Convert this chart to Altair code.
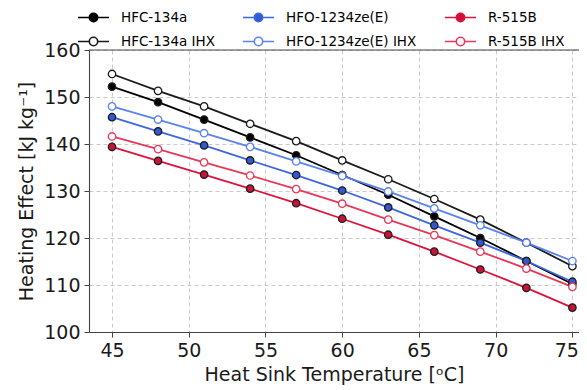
import altair as alt
import pandas as pd

# ---- data ----
temps = [45, 48, 51, 54, 57, 60, 63, 66, 69, 72, 75]
hfc134a = [152.2, 148.9, 145.2, 141.4, 137.6, 133.4, 129.2, 124.6, 120.0, 115.1, 110.2]
hfc134a_ihx = [154.9, 151.3, 148.0, 144.3, 140.6, 136.5, 132.5, 128.3, 123.9, 119.0, 114.0]
hfo1234ze = [145.7, 142.7, 139.7, 136.5, 133.4, 130.1, 126.5, 122.7, 119.0, 115.1, 110.7]
hfo1234ze_ihx = [148.0, 145.2, 142.3, 139.4, 136.3, 133.2, 129.9, 126.3, 122.7, 119.0, 115.1]
r515b = [139.4, 136.4, 133.5, 130.5, 127.4, 124.1, 120.7, 117.1, 113.3, 109.4, 105.2]
r515b_ihx = [141.6, 138.9, 136.1, 133.3, 130.4, 127.3, 123.9, 120.6, 117.1, 113.5, 109.6]

series_names = ["HFC-134a", "HFC-134a IHX", "HFO-1234ze(E)",
                "HFO-1234ze(E) IHX", "R-515B", "R-515B IHX"]
series_values = [hfc134a, hfc134a_ihx, hfo1234ze, hfo1234ze_ihx, r515b, r515b_ihx]
line_colors = ["#000000", "#1a1a1a", "#3f66e0", "#5a82f2", "#dc143c", "#e8385a"]
fill_colors = ["#000000", "#ffffff", "#3159d0", "#ffffff", "#cc1238", "#ffffff"]
filled_flags = [True, False, True, False, True, False]

x_ticks = [45, 50, 55, 60, 65, 70, 75]
y_ticks = [100, 110, 120, 130, 140, 150, 160]

rows = []
for name, vals, filled in zip(series_names, series_values, filled_flags):
    for t, v in zip(temps, vals):
        rows.append({"temp": t, "value": v, "series": name, "filled": filled})
df = pd.DataFrame(rows)

x_enc = alt.X("temp:Q", scale=alt.Scale(domain=[43.5, 75.43], nice=False, zero=False),
              axis=alt.Axis(values=x_ticks, title="Heat Sink Temperature [ᵒC]", format="d",
                            labelFlush=10, labelFlushOffset=6))
y_enc = alt.Y("value:Q", scale=alt.Scale(domain=[100, 160], nice=False, zero=False),
              axis=alt.Axis(values=y_ticks, title="Heating Effect [kJ kg⁻¹]", format="d"))

legend_symbol = ("M-1,0H-0.27M0.27,0H1M-0.27,0A0.27,0.27,0,1,1,0.27,0"
                 "A0.27,0.27,0,1,1,-0.27,0")
leg = alt.Legend(title=None, orient="none", legendX=-12, legendY=-49, columns=3,
                 columnPadding=24, rowPadding=-2, symbolType=legend_symbol,
                 symbolSize=961, symbolStrokeWidth=1.6, labelFontSize=13.5,
                 labelOffset=11, labelColor="#000000")

fill_scale = alt.Scale(domain=series_names, range=fill_colors)
stroke_scale = alt.Scale(domain=series_names, range=line_colors)

base = alt.Chart(df)

lines = base.mark_line(strokeWidth=1.8).encode(
    x=x_enc, y=y_enc,
    stroke=alt.Stroke("series:N", scale=stroke_scale, legend=leg),
    detail="series:N",
)

points = base.mark_point(shape="circle", size=55, strokeWidth=1.3, opacity=1).encode(
    x=x_enc, y=y_enc,
    fill=alt.Fill("series:N", scale=fill_scale, legend=leg),
    stroke=alt.condition("datum.filled", alt.value("#1e1e1e"),
                         alt.Stroke("series:N", scale=stroke_scale, legend=leg)),
)

top_spine = alt.Chart(pd.DataFrame({"v": [y_ticks[-1]]})).mark_rule(
    color="#444444", strokeWidth=1.1).encode(y=alt.Y("v:Q"))

chart = alt.layer(lines, points, top_spine).properties(
    width=490, height=282,
    autosize=alt.AutoSizeParams(type="none"),
    padding={"left": 81, "top": 42, "right": 0, "bottom": 56},
).configure(font="DejaVu Sans").configure_view(stroke=None).configure_axis(
    domainColor="#444444", domainWidth=1.1, tickColor="#444444", tickSize=5,
    labelFontSize=19, titleFontSize=19, labelColor="#1a1a1a", titleColor="#1a1a1a",
    titleFontWeight="normal", labelPadding=4, gridColor="#c4c4c4", gridDash=[4, 3],
    gridWidth=0.9,
).configure_axisX(titlePadding=5).configure_axisY(titlePadding=7)

chart.save("out.html", embed_options={"renderer": "svg", "actions": False})
